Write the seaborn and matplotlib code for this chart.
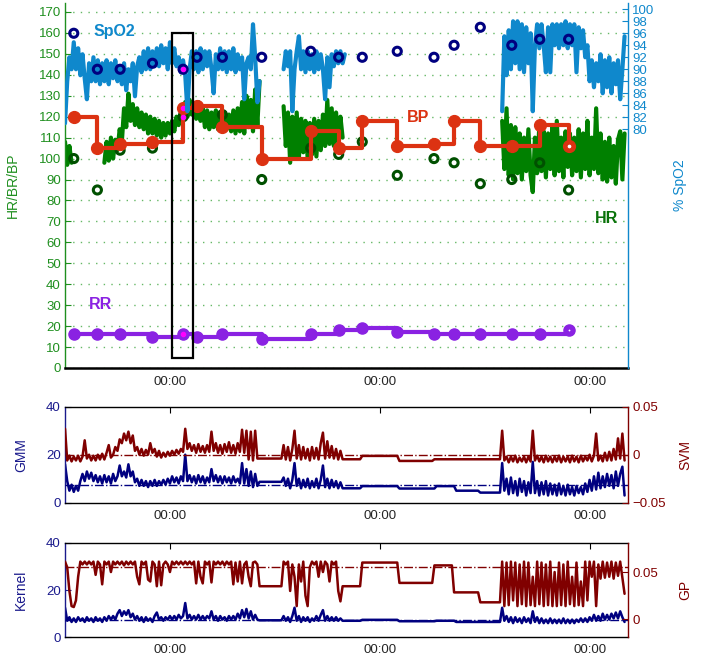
import numpy as np
import pandas as pd
import matplotlib
matplotlib.use("Agg")
import matplotlib.pyplot as plt
import seaborn as sns
from matplotlib.patches import Rectangle

sns.set_style("white")
plt.rcParams['font.family'] = ['Liberation Sans', 'DejaVu Sans']

# ---------------- data ----------------
# continuous signals sampled every 0.25 h from -12 h (hours relative to first midnight)
n_samples = 257
hours = np.arange(n_samples) * 0.25 - 12.0
nan = np.nan

spo2_a = [81, 88, 92, 90, 94.5, 90, 93.5, 89, 92.5, 88.5,
          85, 91, 88, 92, 88, 91.5, 87.5, 91, 88, 91.5,
          87.5, 91, 88.5, 91.5, 88, 90.5, 87.5, 91, 86.5, 90,
          88, 91, 85.5, 90.5, 92, 89.5, 93, 90, 93.5, 90,
          93, 90.5, 93.5, 90.5, 94, 91, 93.5, 90, 94.5, 91,
          93.5, 90.5, 92, 89.5, 91.5, 89, 83, 90, 93, 90,
          93, 89.5, 93.5, 90, 93, 90.5, 93, 90, 86, 92.5,
          90, 93.5, 90, 93, 89.5, 93, 90, 93.5, 89.5, 92.5,
          90, 92, 85, 91, 92, 90, 97.5, 92, 84.5, 88]
spo2_b = [90, 93, 90.5, 93, 83, 90, 93, 95.5, 90, 93,
          89.5, 93, 90, 92.5, 89.5, 93, 90, 92.5, 90, 85,
          92, 87, 92.5, 90.5, 93, 91, 93, 91, 92.5]
spo2_c = [83, 95.5, 89, 96.5, 90, 98, 91, 98, 90, 97.5,
          89.5, 97, 91, 96, 83, 94, 97.5, 93.5, 97.5, 94,
          89.5, 97, 89.5, 97.5, 94, 97.5, 93.5, 97.5, 94, 98,
          93.5, 97.5, 94, 97.5, 89.5, 97, 93.5, 96.5, 92, 94,
          88, 91.5, 87, 91, 88, 92.5, 86, 91.5, 87, 92,
          86, 91, 87.5, 91.5, 85, 90, 95.5]
spo2_cont = spo2_a + [nan] * 10 + spo2_b + [nan] * 71 + spo2_c

hr_a = [108, 97, 106, 98]
hr_b = [98, 108, 99, 110, 100, 109, 104, 114, 108, 124,
        115, 131, 118, 126, 116, 124, 115, 122, 114, 121,
        112, 120, 112, 119, 111, 118, 110, 117, 111, 117,
        112, 118, 113, 120, 116, 122, 118, 127, 120, 128,
        121, 126, 119, 127, 118, 124, 115, 123, 114, 122,
        115, 123, 114, 121, 113, 122, 114, 121, 113, 123,
        112, 124, 113, 127, 112, 130, 115, 128, 113, 133,
        116, 137]
hr_c = [125, 106, 122, 98, 120, 101, 122, 100, 119, 103,
        118, 100, 117, 102, 119, 101, 118, 104, 121, 106,
        128, 107, 124, 106, 122, 108, 120, 110]
hr_d = [118, 95, 124, 92, 116, 90, 115, 93, 112, 90,
        110, 94, 114, 92, 84, 110, 93, 116, 94, 113,
        91, 112, 95, 115, 92, 118, 94, 110, 91, 113,
        96, 112, 92, 110, 94, 114, 91, 112, 95, 118,
        92, 110, 95, 124, 93, 112, 90, 108, 89, 110,
        91, 106, 88, 109, 113, 90, 112]
hr_cont = hr_a + [nan] * 14 + hr_b + [nan] * 10 + hr_c + [nan] * 72 + hr_d

gmm_a = [16, 9, 5, 7.5, 4.5, 7, 5, 9, 12, 9,
         13, 10, 12.5, 9, 11.5, 8.5, 11, 8, 11.5, 8.5,
         11, 8, 12, 9, 11, 15.5, 11, 13, 10.5, 16,
         11, 13, 8.5, 10, 7, 9.5, 7, 9, 6.5, 9,
         7, 9.5, 7, 9, 7.5, 9.5, 7.5, 10, 8, 11,
         8.5, 10.5, 8, 11, 9, 20, 9, 11.5, 8.5, 11,
         8, 11.5, 8.5, 11, 8, 10.5, 8.5, 14, 9, 11.5,
         8.5, 11, 8, 11, 8.5, 10.5, 8, 11, 8.5, 10,
         8, 16.5, 8, 14, 7, 13, 6.5, 12, 7]
gmm_b = [10.5, 7, 10, 6, 9.5, 16.5, 7, 10, 6, 9.5,
         6.5, 10, 6, 9, 6.5, 10, 6, 9.5, 15.5, 6.5,
         10, 6, 9.5, 6.5, 9, 6, 8.5]
gmm_c = [16.5, 5, 10, 3.5, 10.5, 4, 9, 3, 10, 4.5,
         9, 3, 8.5, 4, 17, 4, 9, 3, 8.5, 3.5,
         9, 3, 8, 3.5, 7.5, 3, 8, 3.5, 7, 3,
         7.5, 3.5, 6.5, 3, 7, 4, 6.5, 3.5, 8, 4.5,
         9.5, 5, 11, 5.5, 12.5, 6, 11, 6.5, 12, 7,
         11.5, 6, 13, 7, 12, 15, 3]
gmm = (gmm_a + [8.7] * 11 + gmm_b + [6.0] * 9 + [6.9] * 17 + [5.9] * 17 + [6.9] * 9
       + [5.0] * 11 + [4.2] * 10 + gmm_c)

svm_a = [0.027, -0.006, -0.001, -0.007, -0.002, -0.006, -0.001, -0.007, -0.002, 0.015,
         -0.004, 0.0, -0.006, -0.001, -0.006, 0.0, -0.005, 0.001, -0.005, 0.002,
         0.01, -0.003, 0.0, 0.008, 0.004, 0.016, 0.012, 0.022, 0.015, 0.024,
         0.012, 0.02, 0.004, 0.008, 0.0, 0.006, -0.001, 0.005, 0.0, 0.012,
         0.002, 0.006, -0.002, 0.004, -0.003, 0.002, -0.002, 0.003, -0.001, 0.004,
         0.0, 0.005, 0.001, 0.006, 0.003, 0.027, 0.006, 0.012, 0.004, 0.01,
         0.002, 0.011, 0.003, 0.009, 0.002, 0.01, 0.003, 0.024, 0.004, 0.012,
         0.002, 0.01, 0.001, 0.011, 0.003, 0.013, 0.002, 0.01, 0.001, 0.012,
         0.003, 0.026, 0.002, 0.025, -0.005, 0.024, -0.006, 0.025, -0.004]
svm_b = [0.01, -0.005, 0.008, -0.006, 0.006, 0.025, -0.004, 0.01, -0.005, 0.008,
         -0.004, 0.006, -0.006, 0.008, -0.004, 0.007, -0.005, 0.012, 0.023, -0.004,
         0.014, -0.003, 0.009, -0.004, 0.006, -0.005, 0.004]
svm_c = [0.025, -0.006, -0.002, -0.008, -0.002, -0.007, -0.001, -0.008, -0.003, -0.007,
         -0.002, -0.008, -0.002, -0.007, 0.025, -0.006, -0.001, -0.007, -0.002, -0.008,
         -0.001, -0.007, -0.002, -0.008, -0.002, -0.007, -0.001, -0.008, -0.002, -0.007,
         -0.002, -0.008, -0.001, -0.007, -0.002, -0.008, -0.001, -0.007, -0.002, -0.006,
         0.0, -0.007, -0.001, 0.022, -0.006, -0.001, -0.007, 0.002, -0.006, 0.003,
         -0.006, 0.006, -0.005, 0.017, -0.004, 0.022, -0.006]
svm = (svm_a + [-0.004] * 11 + svm_b + [-0.00475] * 9 + [-0.00125] * 17 + [-0.0065] * 16
       + [-0.00475] * 31 + svm_c)

kernel_a = [12.5, 7, 8.5, 6.5, 8, 6.5, 8.5, 7, 8, 6.5,
            8.5, 7, 8, 6.5, 8.5, 7, 8, 6.5, 8.5, 7,
            9, 7.5, 9, 7.5, 10, 11.5, 9, 11, 9.5, 11.5,
            8.5, 10, 7.5, 9, 7, 8.5, 6.5, 8.5, 7, 8,
            6.5, 9, 10.5, 7.5, 8.5, 7, 8.5, 7.5, 9, 7.5,
            9, 7.5, 9.5, 8, 9, 14.5, 8, 9.5, 7.5, 9,
            7.5, 9.5, 7.5, 9, 7.5, 9, 8, 11, 7.5, 9,
            7, 9, 7.5, 8.5, 7, 9, 7.5, 9, 7.5, 10,
            8, 11.5, 8.5, 12, 8, 11, 7.5, 9.5, 7.5]
kernel_b = [9, 7, 8.5, 6.5, 9, 12.5, 7, 9, 6.5, 8.5,
            7, 8.5, 6.5, 8, 7, 9, 7, 9.5, 11.5, 7,
            9, 7, 8.5, 7, 8.5, 7, 8]
kernel_c = [12.5, 7, 9, 6.5, 8.5, 6, 8.5, 6.5, 8, 6,
            8.5, 6.5, 8, 6, 11, 6.5, 8.5, 6, 8, 6,
            7.5, 6, 8, 6, 7.5, 6, 7.5, 6, 8, 6,
            7.5, 6, 7.5, 6, 7.5, 6.5, 8, 6.5, 8, 6.5,
            8.5, 7, 9.5, 7, 9, 7, 10, 7.5, 9.5, 7.5,
            10, 8, 10.5, 8, 11, 8.5, 6.5]
kernel = (kernel_a + [7.2] * 11 + kernel_b + [7.0] * 9 + [7.4] * 17 + [6.8] * 17 + [7.0] * 9
          + [6.5] * 21 + kernel_c)

gp_a = [0.061, 0.055, 0.030, 0.014, 0.013, 0.020, 0.045, 0.061, 0.058, 0.061,
        0.058, 0.061, 0.058, 0.061, 0.047, 0.061, 0.058, 0.037, 0.061, 0.058,
        0.061, 0.050, 0.061, 0.058, 0.061, 0.058, 0.061, 0.057, 0.061, 0.058,
        0.061, 0.058, 0.061, 0.045, 0.037, 0.061, 0.058, 0.061, 0.042, 0.040,
        0.061, 0.058, 0.035, 0.061, 0.036, 0.058, 0.061, 0.058, 0.050, 0.061,
        0.058, 0.061, 0.058, 0.061, 0.058, 0.061, 0.058, 0.061, 0.058, 0.061,
        0.038, 0.061, 0.045, 0.038, 0.061, 0.058, 0.061, 0.039, 0.061, 0.058,
        0.061, 0.058, 0.061, 0.057, 0.061, 0.058, 0.061, 0.037, 0.060, 0.040,
        0.061, 0.038, 0.058, 0.061, 0.045, 0.035, 0.060, 0.061, 0.058]
gp_b = [0.061, 0.058, 0.061, 0.030, 0.058, 0.045, 0.014, 0.058, 0.040, 0.061,
        0.025, 0.014, 0.055, 0.061, 0.058, 0.061, 0.045, 0.061, 0.050, 0.061,
        0.058, 0.040, 0.061, 0.058, 0.061, 0.030, 0.019]
gp_c = [0.061, 0.014, 0.060, 0.015, 0.061, 0.020, 0.060, 0.014, 0.058, 0.016,
        0.061, 0.014, 0.060, 0.015, 0.045, 0.014, 0.061, 0.016, 0.060, 0.014,
        0.058, 0.015, 0.061, 0.014, 0.050, 0.014, 0.060, 0.015, 0.058, 0.014,
        0.061, 0.016, 0.045, 0.014, 0.060, 0.015, 0.040, 0.014, 0.061, 0.020,
        0.061, 0.045, 0.061, 0.014, 0.058, 0.043, 0.061, 0.044, 0.060, 0.045,
        0.061, 0.043, 0.060, 0.046, 0.061, 0.044, 0.027]
gp = (gp_a + [0.035] * 11 + gp_b + [0.035] * 9 + [0.060] * 17 + [0.0385] * 16 + [0.057] * 9
      + [0.0285] * 12 + [0.018] * 10 + gp_c)

for _name, _s in [("spo2", spo2_cont), ("hr", hr_cont), ("gmm", gmm), ("svm", svm),
                  ("kernel", kernel), ("gp", gp)]:
    assert len(_s) == n_samples, (_name, len(_s))

# discrete measurements
meas_hours = [-11.0, -8.3, -5.7, -2.0, 1.5, 3.1, 6.0, 10.5, 16.1, 19.3,
              22.0, 26.0, 30.2, 32.5, 35.5, 39.1, 42.3, 45.6]
bp = [120, 105, 107, 108, 124, 125, 115, 100, 113, 105, 118, 106, 107, 118, 106, 106, 116, 106]
rr = [16, 16, 16, 15, 16, 15, 16, 14, 16, 18, 19, 17, 16, 16, 16, 16, 16, 18]
hr_disc = [100, 85, 104, 105, 120, nan, 121, 90, 105, 102, 108, 92, 100, 98, 88, 90, 98, 85]
spo2_disc = [96, 90, 90, 91, 90, 92, 92, 92, 93, 92, 92, 93, 92, 94, 97, 94, 95, 95]

# highlighted window
hl_index = 4
hl_t0, hl_t1, hl_lo, hl_hi = 0.2, 2.6, 5, 160

# thresholds
gmm_thr, svm_thr, kernel_thr, gp_thr = 7.2, 0.0, 7.2, 0.0555

xtick_hours = [0, 24, 48]
xtick_labels = ["00:00", "00:00", "00:00"]

# ---------------- styles ----------------
C_GREEN_AX = "#1f8f1f"
C_HR = "#008000"
C_HRD = "#005000"
C_SPO2 = "#0f88cc"
C_NAVY = "#000080"
C_BP = "#dc3212"
C_RR = "#8a22e2"
C_DRED = "#800000"
C_LNAVY = "#1a1a8c"
FS = 9.5

def seg_frame(t, v):
    v = np.asarray(v, float)
    seg = np.cumsum(np.isnan(v))
    return pd.DataFrame({"t": t, "v": v, "seg": seg}).dropna()

fig = plt.figure(figsize=(7.03, 6.61), dpi=100)
L, W = 0.0925, 0.8009
ax1 = fig.add_axes([L, 0.4433, W, 0.5522])
ax1r = ax1.twinx()
ax2 = fig.add_axes([L, 0.2395, W, 0.1452])
ax2r = ax2.twinx()
ax3 = fig.add_axes([L, 0.0358, W, 0.1432])
ax3r = ax3.twinx()

# ---------- main panel ----------
ax1.set_xlim(-12, 52.4)
ax1.set_ylim(0, 174.3)
ax1r.set_ylim(40.2, 101.05)

sns.lineplot(data=seg_frame(hours, hr_cont), x="t", y="v", units="seg", estimator=None,
             color=C_HR, linewidth=3.0, sort=False, ax=ax1, legend=False)
sns.scatterplot(x=meas_hours, y=hr_disc, color=C_HRD, facecolor="none", edgecolor=C_HRD,
                linewidth=2.2, s=34, ax=ax1, zorder=3)
sns.lineplot(x=meas_hours, y=bp, color=C_BP, linewidth=3, drawstyle="steps-post",
             marker="o", markersize=8.5, markeredgecolor=C_BP, markeredgewidth=1,
             estimator=None, ax=ax1, legend=False, zorder=4)
sns.scatterplot(x=meas_hours[-1:], y=bp[-1:], color="white", facecolor="white", edgecolor=C_BP,
                linewidth=2.4, s=26, ax=ax1, zorder=5)
sns.lineplot(x=meas_hours, y=rr, color=C_RR, linewidth=3, drawstyle="steps-post",
             marker="o", markersize=8, markeredgecolor=C_RR, markeredgewidth=1,
             estimator=None, ax=ax1, legend=False, zorder=4)
sns.scatterplot(x=meas_hours[-1:], y=rr[-1:], color="white", facecolor="white", edgecolor=C_RR,
                linewidth=2.6, s=16, ax=ax1, zorder=5)
ax1.plot([meas_hours[hl_index]] * 3, [bp[hl_index], hr_disc[hl_index], rr[hl_index]],
         ls="none", marker="o", ms=3, color="#ff00ff", mec="#ff00ff", zorder=6)

sns.lineplot(data=seg_frame(hours, spo2_cont), x="t", y="v", units="seg", estimator=None,
             color=C_SPO2, linewidth=3.0, sort=False, ax=ax1r, legend=False)
sns.scatterplot(x=meas_hours, y=spo2_disc, color=C_NAVY, facecolor="none", edgecolor=C_NAVY,
                linewidth=2.2, s=34, ax=ax1r, zorder=3)
ax1r.plot([meas_hours[hl_index]], [spo2_disc[hl_index]], ls="none", marker="o", ms=3,
          color="#ff00ff", mec="#ff00ff", zorder=6)
ax1r.add_patch(Rectangle((hl_t0, hl_lo), hl_t1 - hl_t0, hl_hi - hl_lo, fill=False,
                         edgecolor="black", linewidth=1.6, transform=ax1.transData, zorder=7))

ax1r.text(-6.4, 160.5, "SpO2", color=C_SPO2, fontsize=11.5, fontweight="bold",
          ha="center", va="center", transform=ax1.transData)
ax1.text(28.4, 119.6, "BP", color=C_BP, fontsize=11.5, fontweight="bold", ha="center", va="center")
ax1.text(49.9, 71.4, "HR", color="#0a720a", fontsize=11.5, fontweight="bold", ha="center", va="center")
ax1.text(-7.9, 30.1, "RR", color=C_RR, fontsize=11.5, fontweight="bold", ha="center", va="center")

ax1.set_yticks(np.arange(0, 171, 10))
ax1r.set_yticks(np.arange(80, 101, 2))
ax1.set_xticks(xtick_hours)
ax1.set_xticklabels(xtick_labels)
ax1.grid(axis="y", linestyle=(0, (1, 4.5)), color="#66b866", linewidth=1)
ax1.grid(axis="x", visible=False)
ax1.tick_params(axis="y", direction="in", length=4, color=C_GREEN_AX, labelcolor=C_GREEN_AX,
                labelsize=FS, pad=3)
ax1.tick_params(axis="x", direction="in", length=5, color="black", labelsize=FS, pad=6)
ax1r.tick_params(axis="y", direction="in", length=4, color=C_SPO2, labelcolor=C_SPO2,
                 labelsize=FS, pad=3)
for s in ["top", "right"]:
    ax1.spines[s].set_visible(False)
ax1.spines["left"].set_color(C_GREEN_AX)
ax1.spines["left"].set_linewidth(1)
ax1.spines["bottom"].set_color("black")
ax1.spines["bottom"].set_linewidth(1.8)
for s in ["top", "left", "bottom"]:
    ax1r.spines[s].set_visible(False)
ax1r.spines["right"].set_color(C_SPO2)
ax1r.spines["right"].set_linewidth(1)
ax1.set_xlabel("")
ax1.set_ylabel("HR/BR/BP", color=C_GREEN_AX, fontsize=10)
ax1.yaxis.set_label_coords(-0.080, 0.5)
ax1r.set_ylabel("% SpO2", color=C_SPO2, fontsize=10)
ax1r.yaxis.set_label_coords(1.080, 0.5)

# ---------- lower panels ----------
def lower_panel(ax, axr, left_vals, right_vals, left_thr, right_thr, rlim, rticks, rticklabels,
                llabel, rlabel):
    ax.set_xlim(-12, 52.4)
    ax.set_ylim(0, 40)
    axr.set_ylim(*rlim)
    sns.lineplot(x=hours, y=left_vals, color=C_NAVY, linewidth=1.8, estimator=None,
                 sort=False, ax=ax, legend=False)
    ax.axhline(left_thr, color=C_NAVY, linestyle="-.", linewidth=1, zorder=3)
    sns.lineplot(x=hours, y=right_vals, color=C_DRED, linewidth=1.8, estimator=None,
                 sort=False, ax=axr, legend=False)
    axr.axhline(right_thr, color=C_DRED, linestyle="-.", linewidth=1, zorder=3)
    ax.set_yticks([0, 20, 40])
    axr.set_yticks(rticks)
    axr.set_yticklabels(rticklabels)
    ax.set_xticks(xtick_hours)
    ax.set_xticklabels(xtick_labels)
    ax.grid(False)
    axr.grid(False)
    ax.tick_params(axis="y", direction="in", length=4, color=C_LNAVY, labelcolor=C_LNAVY,
                   labelsize=FS, pad=3)
    ax.tick_params(axis="x", direction="in", length=4, top=True, color="black",
                   labelsize=FS, pad=5)
    axr.tick_params(axis="y", direction="in", length=4, color=C_DRED, labelcolor=C_DRED,
                    labelsize=FS, pad=3)
    for s in ["top", "bottom"]:
        ax.spines[s].set_color("black")
        ax.spines[s].set_linewidth(1)
    ax.spines["left"].set_color(C_LNAVY)
    ax.spines["left"].set_linewidth(1)
    ax.spines["right"].set_visible(False)
    for s in ["top", "left", "bottom"]:
        axr.spines[s].set_visible(False)
    axr.spines["right"].set_color(C_DRED)
    axr.spines["right"].set_linewidth(1)
    ax.set_xlabel("")
    ax.set_ylabel(llabel, color=C_LNAVY, fontsize=10)
    ax.yaxis.set_label_coords(-0.066, 0.5)
    axr.set_ylabel(rlabel, color=C_DRED, fontsize=10)
    axr.yaxis.set_label_coords(1.090, 0.5)

lower_panel(ax2, ax2r, gmm, svm, gmm_thr, svm_thr, (-0.05, 0.05), [-0.05, 0, 0.05],
            ["\u22120.05", "0", "0.05"], "GMM", "SVM")
lower_panel(ax3, ax3r, kernel, gp, kernel_thr, gp_thr, (-0.019, 0.081), [0, 0.05],
            ["0", "0.05"], "Kernel", "GP")

fig.savefig("out.png", dpi=100)
